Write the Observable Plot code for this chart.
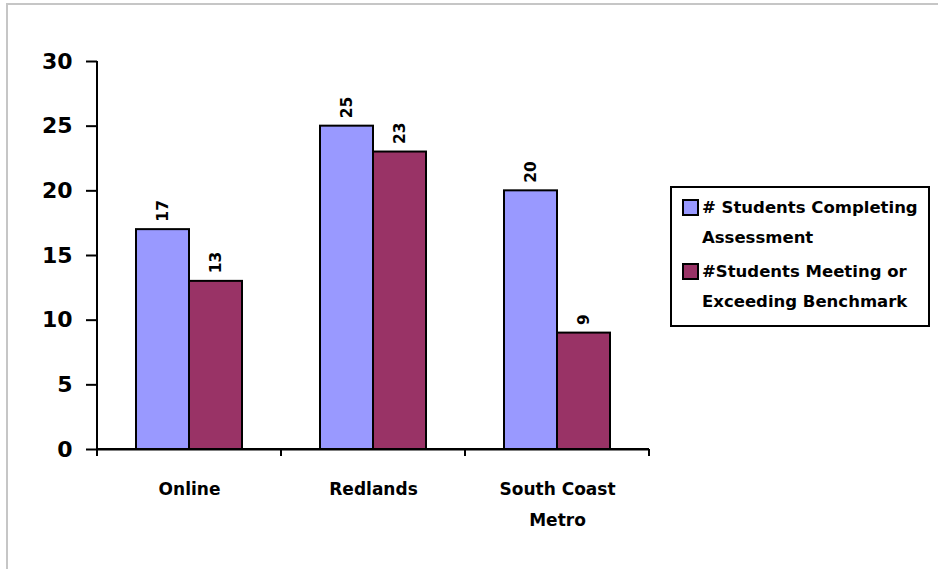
<!DOCTYPE html>
<html>
<head>
<meta charset="utf-8">
<script src="https://cdn.jsdelivr.net/npm/d3@7"></script>
<script src="https://cdn.jsdelivr.net/npm/@observablehq/plot@0.6"></script>
<style>
  html, body { margin: 0; padding: 0; background: #fff; }
  #wrap { position: relative; width: 938px; height: 569px; overflow: hidden; font-family: "DejaVu Sans", sans-serif; }
  #border { position: absolute; left: 6px; top: 3px; width: 940px; height: 580px; border-left: 2px solid #c6c6c6; border-top: 2px solid #c6c6c6; }
  #chart { position: absolute; left: 0; top: 0; }
  #legend { position: absolute; left: 670px; top: 186px; width: 256px; height: 137px; border: 2px solid #000; background: #fff; }
  .item { position: absolute; left: 0; }
  .sw { position: absolute; left: 10px; width: 13px; height: 13px; border: 2px solid #000; }
  .lbl { position: absolute; left: 30px; white-space: nowrap; font-size: 16.5px; font-weight: bold; line-height: 30px; color: #000; }
</style>
</head>
<body>
<div id="wrap">
  <div id="border"></div>
  <div id="chart"></div>
  <div id="legend"></div>
</div>
<script>
const categories = ["Online", "Redlands", "South Coast Metro"];
const categoryLabels = ["Online", "Redlands", "South Coast\nMetro"];
const series = ["# Students Completing Assessment", "#Students Meeting or Exceeding Benchmark"];
const legendLines = [["# Students Completing", "Assessment"], ["#Students Meeting or", "Exceeding Benchmark"]];
const completing = [17, 25, 20];
const meeting = [13, 23, 9];
const yTicks = [0, 5, 10, 15, 20, 25, 30];
const colors = ["#9999FF", "#993366"];

const data = categories.flatMap((c, i) => [
  {cat: c, s: series[0], v: completing[i]},
  {cat: c, s: series[1], v: meeting[i]}
]);

const font = "DejaVu Sans, sans-serif";

const plot = Plot.plot({
  width: 938,
  height: 569,
  marginLeft: 96,
  marginRight: 288,
  marginTop: 61,
  marginBottom: 120,
  style: {fontFamily: font, background: "transparent", color: "#000"},
  fx: {domain: categories, padding: 0, label: null},
  x: {domain: series, paddingInner: 0, paddingOuter: 0.73, axis: null},
  y: {domain: [0, 30], label: null, axis: null},
  color: {domain: series, range: colors},
  marks: [
    Plot.barY(data, {fx: "cat", x: "s", y: "v", fill: "s", stroke: "#000", strokeWidth: 2}),
    Plot.text(data, {fx: "cat", x: "s", y: "v", text: "v", rotate: -90, textAnchor: "start", lineAnchor: "middle", dy: -8, fontSize: 15.5, fontWeight: "bold", fill: "#000"}),
    Plot.axisY({ticks: yTicks, tickSize: 11, tickPadding: 14, fontSize: 22, fontWeight: "bold", strokeWidth: 2, label: null, tickFormat: d => String(d)}),
    Plot.axisFx({anchor: "bottom", tickSize: 0, tickPadding: 24, fontSize: 17, fontWeight: "bold", lineHeight: 1.82, label: null,
      tickFormat: c => categoryLabels[categories.indexOf(c)]}),
    Plot.ruleY([0], {stroke: "#000", strokeWidth: 2})
  ]
});

document.getElementById("chart").appendChild(plot);

// Axis line and category-boundary ticks from the library's scales
const fxs = plot.scale("fx");
const ys = plot.scale("y");
const svg = d3.select(plot);
const g = svg.append("g").attr("stroke", "#000").attr("stroke-width", 2);
const y0 = ys.apply(0), yTop = ys.apply(yTicks[yTicks.length - 1]);
const bounds = categories.map(c => fxs.apply(c)).concat([fxs.apply(categories[categories.length - 1]) + fxs.bandwidth]);
g.append("line").attr("x1", bounds[0]).attr("x2", bounds[0]).attr("y1", yTop).attr("y2", y0 + 7);
bounds.forEach(b => g.append("line").attr("x1", b).attr("x2", b).attr("y1", y0).attr("y2", y0 + 7));
g.append("line").attr("x1", bounds[0]).attr("x2", bounds[bounds.length - 1]).attr("y1", y0).attr("y2", y0);

// Legend
const legend = document.getElementById("legend");
const tops = [5, 69];
series.forEach((s, i) => {
  const item = document.createElement("div");
  item.className = "item";
  item.style.top = tops[i] + "px";
  const sw = document.createElement("div");
  sw.className = "sw";
  sw.style.background = colors[i];
  sw.style.top = "6px";
  const lbl = document.createElement("div");
  lbl.className = "lbl";
  lbl.innerHTML = legendLines[i].join("<br>");
  item.appendChild(sw);
  item.appendChild(lbl);
  legend.appendChild(item);
});
</script>
</body>
</html>
